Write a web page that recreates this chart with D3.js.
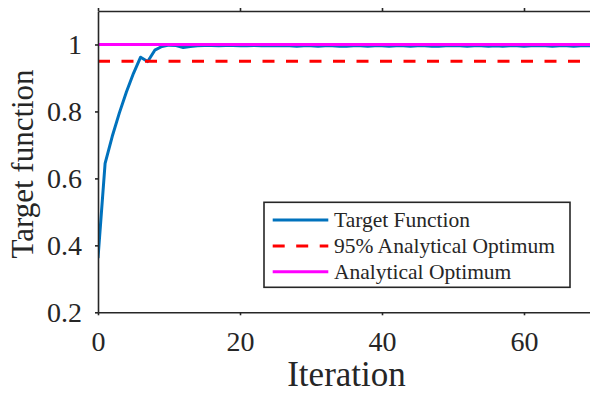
<!DOCTYPE html>
<html>
<head>
<meta charset="utf-8">
<script src="https://cdn.jsdelivr.net/npm/d3@7"></script>
<style>
  html, body { margin: 0; padding: 0; background: #fff; overflow: hidden; }
  svg { display: block; }
  text { font-family: "Liberation Serif", "Tinos", "Times New Roman", "Nimbus Roman", "DejaVu Serif", serif; fill: #262626; }
</style>
</head>
<body>
<svg id="chart" width="590" height="394"></svg>
<script>
// Target function value at each iteration
const iterations = d3.range(0, 71);
const targetValues = [
  0.362, 0.645, 0.725, 0.795, 0.858, 0.914, 0.962, 0.949, 0.983, 0.994,
  0.998, 0.997, 0.991, 0.994, 0.996, 0.997, 0.997, 0.996, 0.997, 0.997,
  0.996, 0.996, 0.997, 0.996, 0.996, 0.997, 0.996, 0.996, 0.995, 0.996,
  0.996, 0.995, 0.996, 0.996, 0.995, 0.995, 0.996, 0.996, 0.995, 0.996,
  0.996, 0.995, 0.996, 0.996, 0.995, 0.996, 0.996, 0.995, 0.995, 0.996,
  0.996, 0.996, 0.995, 0.996, 0.996, 0.995, 0.996, 0.995, 0.996, 0.996,
  0.995, 0.996, 0.996, 0.996, 0.995, 0.996, 0.996, 0.995, 0.996, 0.996,
  0.996
];
const analyticalOptimum = 1.0;
const optimumFraction = 0.95;

const xTicks = [0, 20, 40, 60];
const yTicks = [0.2, 0.4, 0.6, 0.8, 1];

const legendLabels = ["Target Function", "95% Analytical Optimum", "Analytical Optimum"];
const colors = { target: "#0072bd", ninetyFive: "#ff0000", optimum: "#ff00ff" };

const svg = d3.select("#chart");
const axisColor = "#262626";
const serifStack = '"Liberation Serif", "Tinos", "Times New Roman", "Nimbus Roman", "DejaVu Serif", serif';

const plot = { left: 98, right: 595, top: 11, bottom: 312.3 };

const x = d3.scaleLinear().domain([0, 70]).range([plot.left, plot.right]);
const y = d3.scaleLinear().domain([0.2, 1.1]).range([plot.bottom, plot.top]);

// scale a text's font size so that its rendered width equals the given width
function fitWidth(sel, width, maxSize) {
  sel.each(function () {
    const node = this;
    const size = parseFloat(node.style.fontSize);
    const len = node.getComputedTextLength();
    if (len > 0) node.style.fontSize = Math.min(maxSize, size * width / len) + "px";
  });
}

// clip region for the data lines
svg.append("defs").append("clipPath").attr("id", "plotClip")
  .append("rect")
  .attr("x", plot.left).attr("y", plot.top)
  .attr("width", plot.right - plot.left).attr("height", plot.bottom - plot.top);

const lines = svg.append("g").attr("clip-path", "url(#plotClip)");

const line = d3.line().x((d, i) => x(iterations[i])).y(d => y(d));

lines.append("path")
  .datum(targetValues)
  .attr("d", line)
  .attr("fill", "none")
  .attr("stroke", colors.target)
  .attr("stroke-width", 3)
  .attr("stroke-linejoin", "round");

lines.append("line")
  .attr("x1", x(0)).attr("x2", x(70))
  .attr("y1", y(optimumFraction * analyticalOptimum))
  .attr("y2", y(optimumFraction * analyticalOptimum))
  .attr("stroke", colors.ninetyFive)
  .attr("stroke-width", 3)
  .attr("stroke-dasharray", "12,11.5");

lines.append("line")
  .attr("x1", x(0)).attr("x2", x(70))
  .attr("y1", y(analyticalOptimum)).attr("y2", y(analyticalOptimum))
  .attr("stroke", colors.optimum)
  .attr("stroke-width", 3);

// axes (box with outward ticks)
function styleAxis(g) {
  g.attr("font-family", serifStack);
  g.select(".domain").attr("stroke", axisColor).attr("stroke-width", 1.6);
  g.selectAll(".tick line").attr("stroke", axisColor).attr("stroke-width", 1.6);
  g.selectAll(".tick text")
    .attr("fill", axisColor)
    .style("font-family", serifStack);
}

const xAxis = svg.append("g")
  .attr("transform", `translate(0,${plot.bottom})`)
  .call(d3.axisBottom(x).tickValues(xTicks).tickSize(3).tickSizeOuter(0).tickPadding(16).tickFormat(d3.format("d")));
styleAxis(xAxis);
xAxis.selectAll(".tick text").style("font-size", "28px");

const xTop = svg.append("g")
  .attr("transform", `translate(0,${plot.top})`)
  .call(d3.axisTop(x).tickValues(xTicks).tickSize(3).tickSizeOuter(0).tickFormat(""));
styleAxis(xTop);

const yAxis = svg.append("g")
  .attr("transform", `translate(${plot.left},0)`)
  .call(d3.axisLeft(y).tickValues(yTicks).tickSize(3).tickSizeOuter(0).tickPadding(13).tickFormat(d => d === 1 ? "1" : d3.format(".1f")(d)));
styleAxis(yAxis);
yAxis.selectAll(".tick text").style("font-size", "28px");

// match tick label size to the width of a two-digit label
const sample = xAxis.selectAll(".tick text").filter(d => d === 20);
fitWidth(sample, 28, 29);
const tickSize = sample.node().style.fontSize;
xAxis.selectAll(".tick text").style("font-size", tickSize);
yAxis.selectAll(".tick text").style("font-size", tickSize);

const yRight = svg.append("g")
  .attr("transform", `translate(${plot.right},0)`)
  .call(d3.axisRight(y).tickValues(yTicks).tickSize(3).tickSizeOuter(0).tickFormat(""));
styleAxis(yRight);

// axis titles
const xTitle = svg.append("text")
  .attr("x", 346.5).attr("y", 386)
  .attr("text-anchor", "middle")
  .style("font-size", "35px")
  .text("Iteration");
fitWidth(xTitle, 123, 35);

const yTitle = svg.append("text")
  .attr("transform", "translate(33,164) rotate(-90)")
  .attr("text-anchor", "middle")
  .style("font-size", "31px")
  .text("Target function");
fitWidth(yTitle, 198, 31);

// legend
const legend = svg.append("g");
legend.append("rect")
  .attr("x", 264).attr("y", 202.3)
  .attr("width", 306).attr("height", 85)
  .attr("fill", "#fff")
  .attr("stroke", axisColor)
  .attr("stroke-width", 1.6);

const legendStyles = [
  { color: colors.target, dash: null },
  { color: colors.ninetyFive, dash: "12,11.5" },
  { color: colors.optimum, dash: null }
];
const rowY = [220, 246, 271.7];

const legendTexts = [];
legendLabels.forEach((label, i) => {
  legend.append("line")
    .attr("x1", 272.7).attr("x2", 328.3)
    .attr("y1", rowY[i]).attr("y2", rowY[i])
    .attr("stroke", legendStyles[i].color)
    .attr("stroke-width", 3)
    .attr("stroke-dasharray", legendStyles[i].dash);
  legendTexts.push(legend.append("text")
    .attr("x", 334).attr("y", rowY[i] + 7.3)
    .style("font-size", "21.5px")
    .text(label));
});
// size all legend entries from the longest one
fitWidth(legendTexts[1], 226, 21.5);
legendTexts.forEach(t => t.style("font-size", legendTexts[1].node().style.fontSize));
</script>
</body>
</html>
